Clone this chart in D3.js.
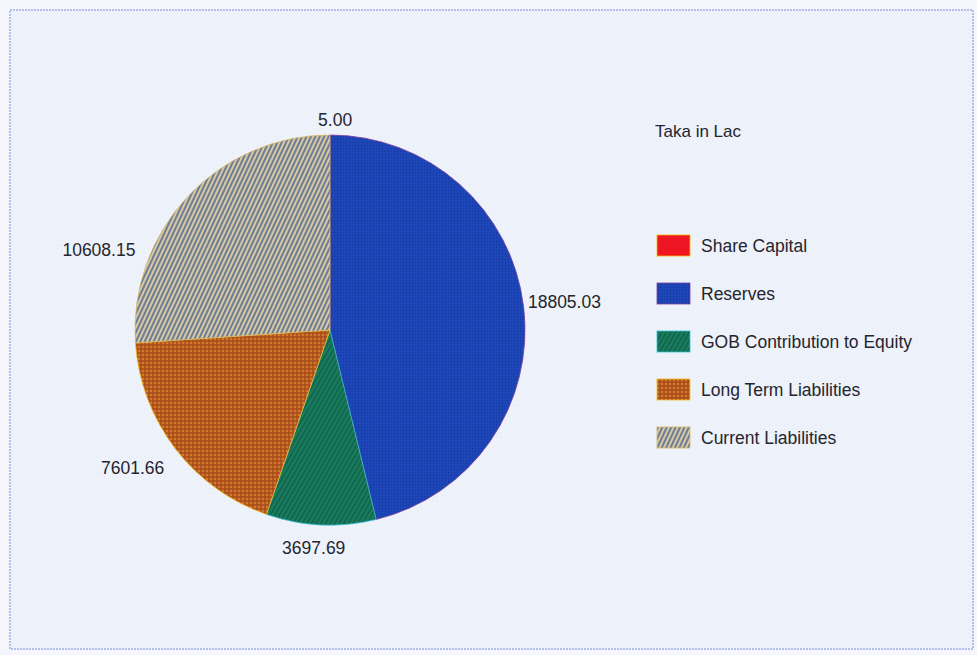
<!DOCTYPE html>
<html>
<head>
<meta charset="utf-8">
<script src="https://cdn.jsdelivr.net/npm/d3@7"></script>
<style>
  body { margin: 0; background: #f4f6fb; }
  text { font-family: "Liberation Sans", Arial, sans-serif; fill: #25252e; }
</style>
</head>
<body>
<div id="chart"></div>
<script>
const categories = ["Share Capital", "Reserves", "GOB Contribution to Equity", "Long Term Liabilities", "Current Liabilities"];
const values = [5.00, 18805.03, 3697.69, 7601.66, 10608.15];
const valueLabels = ["5.00", "18805.03", "3697.69", "7601.66", "10608.15"];
const unitLabel = "Taka in Lac";

const W = 977, H = 655;
const cx = 330, cy = 330, radius = 195;

const svg = d3.select("#chart").append("svg")
  .attr("width", W).attr("height", H);

const defs = svg.append("defs");

// background texture
const bg = defs.append("pattern").attr("id", "bgTex")
  .attr("width", 4).attr("height", 4).attr("patternUnits", "userSpaceOnUse");
bg.append("rect").attr("width", 4).attr("height", 4).attr("fill", "#eef2fa");
bg.append("circle").attr("cx", 1).attr("cy", 1).attr("r", 0.6).attr("fill", "#e2e8f5");

// reserves: blue dotted
const p1 = defs.append("pattern").attr("id", "patReserves")
  .attr("width", 3).attr("height", 3).attr("patternUnits", "userSpaceOnUse");
p1.append("rect").attr("width", 3).attr("height", 3).attr("fill", "#1d46b8");
p1.append("circle").attr("cx", 1.5).attr("cy", 1.5).attr("r", 0.7).attr("fill", "#15389e");

// GOB: green diagonal
const p2 = defs.append("pattern").attr("id", "patGob")
  .attr("width", 4).attr("height", 4).attr("patternUnits", "userSpaceOnUse")
  .attr("patternTransform", "rotate(30)");
p2.append("rect").attr("width", 4).attr("height", 4).attr("fill", "#1a7d5c");
p2.append("rect").attr("width", 1.4).attr("height", 4).attr("fill", "#0f5e4c");

// long term: orange dotted
const p3 = defs.append("pattern").attr("id", "patLong")
  .attr("width", 4).attr("height", 4).attr("patternUnits", "userSpaceOnUse");
p3.append("rect").attr("width", 4).attr("height", 4).attr("fill", "#b4561e");
p3.append("circle").attr("cx", 1).attr("cy", 1).attr("r", 0.9).attr("fill", "#e08a36");
p3.append("circle").attr("cx", 3).attr("cy", 3).attr("r", 0.7).attr("fill", "#8a3f1c");

// current: grey/tan diagonal stripes
const p4 = defs.append("pattern").attr("id", "patCurrent")
  .attr("width", 4).attr("height", 4).attr("patternUnits", "userSpaceOnUse")
  .attr("patternTransform", "rotate(25)");
p4.append("rect").attr("width", 4).attr("height", 4).attr("fill", "#d6c9a4");
p4.append("rect").attr("width", 2).attr("height", 4).attr("fill", "#6f7c96");

const fills = ["#f01522", "url(#patReserves)", "url(#patGob)", "url(#patLong)", "url(#patCurrent)"];
const edges = ["#f5b800", "#7a3fa0", "#35c0d8", "#f0c020", "#d8b860"];

const color = d3.scaleOrdinal().domain(categories).range(fills);
const edge = d3.scaleOrdinal().domain(categories).range(edges);

// frame
svg.append("rect").attr("x", 10).attr("y", 10).attr("width", W - 14).attr("height", H - 16)
  .attr("fill", "url(#bgTex)")
  .attr("stroke", "#b2c0ea").attr("stroke-width", 2).attr("stroke-dasharray", "2,1");

const data = categories.map((c, i) => ({ cat: c, value: values[i], label: valueLabels[i] }));

const pie = d3.pie().sort(null).value(d => d.value);
const arcs = pie(data);
const arc = d3.arc().innerRadius(0).outerRadius(radius);

const g = svg.append("g").attr("transform", `translate(${cx},${cy})`);

g.selectAll("path.slice")
  .data(arcs)
  .join("path")
    .attr("class", "slice")
    .attr("d", arc)
    .attr("fill", d => color(d.data.cat))
    .attr("stroke", d => edge(d.data.cat))
    .attr("stroke-width", 0.8);

// value labels around the pie
const labelArc = d3.arc().innerRadius(222).outerRadius(222);
const nudge = { // layout tweaks so labels sit where the original put them
  "Share Capital": [5, 12],
  "Reserves": [14, -2],
  "GOB Contribution to Equity": [-6, -4],
  "Long Term Liabilities": [-21, 3],
  "Current Liabilities": [-69, 72]
};
g.selectAll("text.val")
  .data(arcs)
  .join("text")
    .attr("class", "val")
    .attr("transform", d => {
      const [x, y] = labelArc.centroid(d);
      const n = nudge[d.data.cat];
      return `translate(${x + n[0]},${y + n[1]})`;
    })
    .attr("text-anchor", "middle")
    .attr("dominant-baseline", "central")
    .attr("font-size", 17.5)
    .text(d => d.data.label);

// unit label
svg.append("text").attr("x", 655).attr("y", 137)
  .attr("font-size", 17).text(unitLabel);

// legend
const legend = svg.append("g").attr("transform", "translate(657,235)");
const item = legend.selectAll("g.item")
  .data(categories)
  .join("g")
    .attr("class", "item")
    .attr("transform", (d, i) => `translate(0,${i * 48})`);
item.append("rect")
  .attr("width", 33).attr("height", 21)
  .attr("fill", d => color(d))
  .attr("stroke", d => edge(d)).attr("stroke-width", 0.8);
item.append("text")
  .attr("x", 44).attr("y", 17)
  .attr("font-size", 17.5)
  .text(d => d);
</script>
</body>
</html>
